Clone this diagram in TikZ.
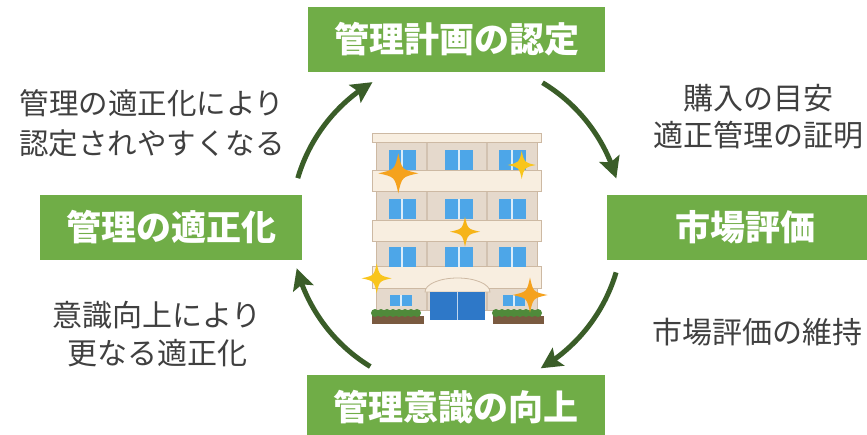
\documentclass[tikz,border=0pt]{standalone}
\usepackage{fontspec}
\newfontfamily\jpfont{Noto Sans CJK JP}
\usetikzlibrary{arrows.meta,bending,calc}

\definecolor{boxgreen}{HTML}{70AD47}
\definecolor{flowgreen}{HTML}{3A5D28}
\definecolor{labelgray}{HTML}{404040}
\definecolor{wallfill}{HTML}{E5D9CC}
\definecolor{bandfill}{HTML}{F8EEE0}
\definecolor{bandline}{HTML}{CDB9A3}
\definecolor{pierline}{HTML}{D2C2B1}
\definecolor{winblue}{HTML}{4DA6E8}
\definecolor{doorblue}{HTML}{2E78C8}
\definecolor{shrub}{HTML}{4F8A3A}
\definecolor{planter}{HTML}{7A5A40}
\definecolor{sparkorange}{HTML}{F5A21E}
\definecolor{sparkyellow}{HTML}{F9C51C}
\definecolor{sparkgold}{HTML}{F6B418}

% four-pointed sparkle: centre x, centre y, radius, colour
\newcommand\drawsparkle[4]{%
  \begin{scope}[shift={(#1,#2)}]
    \fill[#4] (#3,0) .. controls (0.18*#3,0.18*#3) .. (0,#3)
      .. controls (-0.18*#3,0.18*#3) .. (-#3,0)
      .. controls (-0.18*#3,-0.18*#3) .. (0,-#3)
      .. controls (0.18*#3,-0.18*#3) .. cycle;
  \end{scope}}

% window pair: left x, top y, right x, bottom y
\newcommand\drawwindow[4]{%
  \fill[winblue] (#1,#2) rectangle (#3,#4);
  \draw[white!80!winblue, line width=1.6pt] ({(#1+#3)/2},#2) -- ({(#1+#3)/2},#4);}

\tikzset{
  gbox/.style={fill=boxgreen, text=white, inner sep=0pt, minimum height=65pt,
    font=\jpfont\bfseries\fontsize{35}{40}\selectfont},
  lbl/.style={text=labelgray, align=center, inner sep=0pt},
  flow/.style={draw=flowgreen, line width=5pt,
    -{Stealth[length=21pt,width=21pt,inset=4pt]}},
  band/.style={fill=bandfill, draw=bandline, line width=0.8pt}
}

\begin{document}
\begin{tikzpicture}[x=1pt,y=-1pt]
\useasboundingbox (0,0) rectangle (867,434);
\clip (0,0) rectangle (867,434);
\fill[white] (0,0) rectangle (867,434);

% ---- cycle stages ----
\node[gbox, minimum width=297pt] (plan) at (456.5,39.5) {管理計画の認定};
\node[gbox, minimum width=276pt] (market) at (745,227.5) {市場評価};
\node[gbox, minimum width=298pt] (aware) at (456,407.5) {管理意識の向上};
\node[gbox, minimum width=262pt] (proper) at (171,227.5) {管理の適正化};

% ---- explanations ----
\node[lbl, font=\jpfont\fontsize{29.5}{40}\selectfont] (easier) at (152,123)
  {管理の適正化により\\認定されやすくなる};
\node[lbl, font=\jpfont\fontsize{30}{37}\selectfont] (proof) at (758,116.5)
  {購入の目安\\適正管理の証明};
\node[lbl, font=\jpfont\fontsize{30}{38}\selectfont] (further) at (157,334)
  {意識向上により\\更なる適正化};
\node[lbl, font=\jpfont\fontsize{30}{38}\selectfont] (keep) at (757,332)
  {市場評価の維持};

% ---- circular arrows ----
\coordinate (c) at (457,225);
\coordinate (a1) at ($(c)+(163.6:166pt)$);
\coordinate (a2) at ($(c)+(59:166pt)$);
\coordinate (a3) at ($(c)+(-16.6:166pt)$);
\coordinate (a4) at ($(c)+(-121.5:166pt)$);
\draw[flow] (a1) arc[start angle=163.6, end angle=120.6, radius=166pt];
\draw[flow] (a2) arc[start angle=59, end angle=16.3, radius=166pt];
\draw[flow] (a3) arc[start angle=-16.6, end angle=-59.7, radius=166pt];
\draw[flow] (a4) arc[start angle=-121.5, end angle=-164.9, radius=166pt];

% ---- apartment building ----
\filldraw[fill=wallfill, draw=bandline, line width=0.8pt] (376,142) rectangle (537,310);
\draw[pierline, line width=2.5pt] (427,142) -- (427,310) (487,142) -- (487,310);
\filldraw[band] (372.5,133) rectangle (541.5,142);
\filldraw[band] (372.5,170) rectangle (541.5,191.5);
\filldraw[band] (372.5,220) rectangle (541.5,241);
\filldraw[band] (372.5,266.5) rectangle (541.5,288);
% upper floor windows
\drawwindow{388.5}{150}{416}{169.5}
\drawwindow{445}{150}{472.5}{169.5}
\drawwindow{498.5}{150}{526}{169.5}
\drawwindow{388.5}{198.5}{416}{218.5}
\drawwindow{445}{198.5}{472.5}{218.5}
\drawwindow{498.5}{198.5}{526}{218.5}
\drawwindow{388.5}{246.5}{416}{266.5}
\drawwindow{445}{246.5}{472.5}{266.5}
\drawwindow{498.5}{246.5}{526}{266.5}
% ground floor
\drawwindow{390}{295}{411.5}{306}
\drawwindow{503}{295}{525}{306}
\filldraw[band] (425,292) arc[start angle=180, end angle=0, x radius=32.5pt, y radius=14pt] -- cycle;
\fill[doorblue] (430,292) rectangle (485,319.5);
\draw[white!70!doorblue, line width=1.2pt] (457.5,292) -- (457.5,319.5);
% planters
\fill[planter] (371.5,315.5) rectangle (423.5,323.5);
\fill[planter] (493,315.5) rectangle (543.5,323.5);
\foreach \px in {375,381,...,421} { \fill[shrub] (\px,313) circle (4pt); }
\foreach \px in {496,502,...,541} { \fill[shrub] (\px,313) circle (4pt); }
% sparkles
\drawsparkle{398.3}{173.3}{20}{sparkorange}
\drawsparkle{521.7}{165}{14}{sparkyellow}
\drawsparkle{465}{231.7}{15}{sparkgold}
\drawsparkle{376.7}{278.3}{15}{sparkyellow}
\drawsparkle{530}{295}{17.5}{sparkorange}
\end{tikzpicture}
\end{document}
